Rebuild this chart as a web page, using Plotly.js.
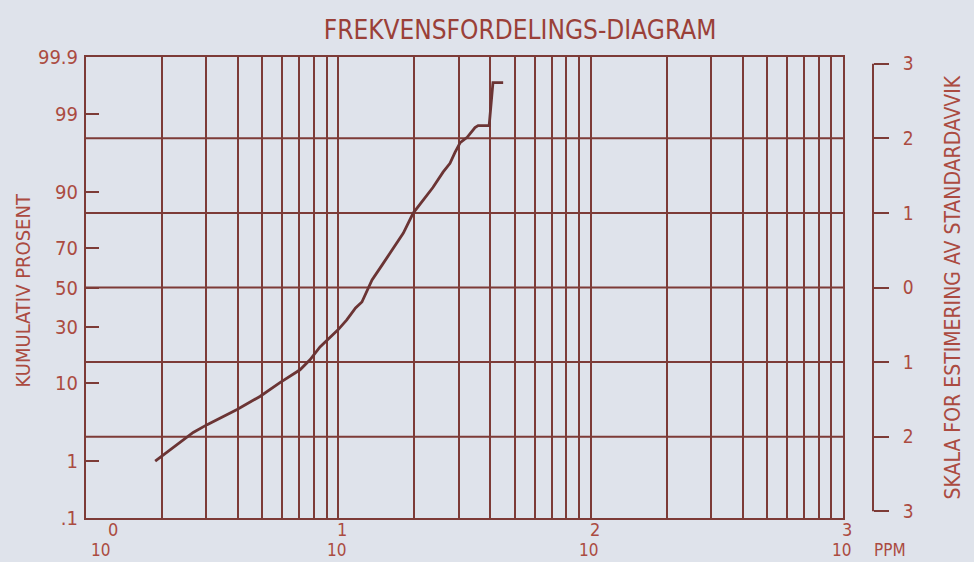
<!DOCTYPE html>
<html>
<head>
<meta charset="utf-8">
<script src="https://cdn.plot.ly/plotly-3.0.1.min.js"></script>
<style>
  html, body { margin: 0; padding: 0; background: #dfe3eb; }
  #chart { width: 974px; height: 562px; }
</style>
</head>
<body>
<div id="chart"></div>
<script>
// ---- data ----
const ppm = [1.88, 2.66, 3.02, 3.97, 4.89, 5.87, 7.05, 7.72, 8.46, 9.27, 9.97, 10.8, 11.7, 12.4, 13.0, 13.6, 14.9, 16.3, 18.1, 19.8, 21.7, 23.7, 26.0, 27.7, 29.0, 30.4, 32.4, 34.8, 35.8, 39.6, 41.0, 45.0];
const cumPct = [1.0, 2.6, 3.3, 5.1, 7.2, 10.1, 13.5, 16.6, 21.3, 25.4, 28.5, 33.2, 39.2, 42.3, 48.7, 54.0, 61.8, 69.2, 76.7, 84.1, 87.9, 91.0, 93.9, 95.2, 96.5, 97.4, 97.8, 98.4, 98.5, 98.5, 99.7, 99.7];

const leftPct = [0.1, 1, 10, 30, 50, 70, 90, 99, 99.9];
const leftLabels = [".1", "1", "10", "30", "50", "70", "90", "99", "99.9"];
const sigmaVals = [3, 2, 1, 0, -1, -2, -3];
const sigmaLabels = ["3", "2", "1", "0", "1", "2", "3"];
const gridMultipliers = [1, 2, 3, 4, 5, 6, 7, 8, 9];
const decades = [0, 1, 2, 3];
const decadeBase = "10";
const unitLabel = "PPM";
const titleText = "FREKVENSFORDELINGS-DIAGRAM";
const leftTitle = "KUMULATIV PROSENT";
const rightTitle = "SKALA FOR ESTIMERING AV STANDARDAVVIK";

// inverse standard normal (Acklam) for the probability scale
function norminv(p) {
  const a = [-3.969683028665376e+01, 2.209460984245205e+02, -2.759285104469687e+02, 1.383577518672690e+02, -3.066479806614716e+01, 2.506628277459239e+00];
  const b = [-5.447609879822406e+01, 1.615858368580409e+02, -1.556989798598866e+02, 6.680131188771972e+01, -1.328068155288572e+01];
  const c = [-7.784894002430293e-03, -3.223964580411365e-01, -2.400758277161838e+00, -2.549732539343734e+00, 4.374664141464968e+00, 2.938163982698783e+00];
  const d = [7.784695709041462e-03, 3.224671290700398e-01, 2.445134137142996e+00, 3.754408661907416e+00];
  const pl = 0.02425, ph = 1 - pl;
  let q, r;
  if (p < pl) {
    q = Math.sqrt(-2 * Math.log(p));
    return (((((c[0]*q+c[1])*q+c[2])*q+c[3])*q+c[4])*q+c[5]) / ((((d[0]*q+d[1])*q+d[2])*q+d[3])*q+1);
  } else if (p <= ph) {
    q = p - 0.5; r = q*q;
    return (((((a[0]*r+a[1])*r+a[2])*r+a[3])*r+a[4])*r+a[5])*q / (((((b[0]*r+b[1])*r+b[2])*r+b[3])*r+b[4])*r+1);
  } else {
    q = Math.sqrt(-2 * Math.log(1 - p));
    return -(((((c[0]*q+c[1])*q+c[2])*q+c[3])*q+c[4])*q+c[5]) / ((((d[0]*q+d[1])*q+d[2])*q+d[3])*q+1);
  }
}
const z = p => norminv(p / 100);

const LINE = '#7d3b37';
const TEXT = '#ab4b41';
const DATA = '#6b3434';
const FONT = '"Liberation Sans Narrow", "DejaVu Sans Condensed", "Roboto", sans-serif';

const zLo = z(leftPct[0]);
const zHi = z(leftPct[leftPct.length - 1]);

const gridVals = [];
decades.slice(0, -1).forEach(k => gridMultipliers.forEach(m => gridVals.push(m * Math.pow(10, k))));
gridVals.push(Math.pow(10, decades[decades.length - 1]));

const trace = {
  x: ppm,
  y: cumPct.map(z),
  type: 'scatter',
  mode: 'lines',
  line: { color: DATA, width: 2.8 },
  hoverinfo: 'x+text',
  text: cumPct.map(v => v + ' %'),
  showlegend: false
};
const dummy = {
  x: [ppm[0]], y: [null], yaxis: 'y2', type: 'scatter', mode: 'lines',
  showlegend: false, hoverinfo: 'skip'
};

const annotations = [];
decades.forEach((k, i) => {
  annotations.push({
    x: k, xref: 'x', y: 0, yref: 'paper', yanchor: 'middle', xanchor: 'center',
    text: decadeBase, showarrow: false, yshift: -32, xshift: i === 0 ? 14 : -2,
    font: { family: FONT, size: 17, color: TEXT }
  });
  annotations.push({
    x: k, xref: 'x', y: 0, yref: 'paper', yanchor: 'middle', xanchor: 'center',
    text: String(k), showarrow: false, yshift: -11, xshift: i === 0 ? 27 : 4,
    font: { family: FONT, size: 18, color: TEXT }
  });
});
annotations.push({
  x: 1, xref: 'paper', y: 0, yref: 'paper', xanchor: 'center', yanchor: 'middle',
  text: unitLabel, showarrow: false, xshift: 17, yshift: -32,
  font: { family: FONT, size: 17, color: TEXT }
});
annotations.push({
  x: 0, xref: 'paper', y: 0, yref: 'y', xanchor: 'center', yanchor: 'middle',
  text: leftTitle, textangle: -90, showarrow: false, xshift: -64, yshift: -3,
  font: { family: FONT, size: 20, color: TEXT }
});
annotations.push({
  x: 1, xref: 'paper', y: 0, yref: 'y', xanchor: 'center', yanchor: 'middle',
  text: rightTitle, textangle: -90, showarrow: false, xshift: 79, yshift: 0,
  font: { family: FONT, size: 21, color: TEXT }
});

const layout = {
  width: 974, height: 562,
  paper_bgcolor: '#dfe3eb',
  plot_bgcolor: '#dfe3eb',
  margin: { l: 86, r: 101, t: 57, b: 44 },
  font: { family: FONT, color: TEXT },
  title: {
    text: titleText,
    x: 520 / 974, xref: 'container', xanchor: 'center',
    y: 1 - 30 / 562, yref: 'container', yanchor: 'middle',
    font: { family: FONT, size: 26, color: '#9a4038' }
  },
  xaxis: {
    type: 'log',
    range: [decades[0], decades[decades.length - 1]],
    domain: [0, 757 / 787],
    tickmode: 'array', tickvals: gridVals, showticklabels: false, ticks: '',
    showgrid: true, gridcolor: LINE, gridwidth: 2,
    showline: true, linecolor: LINE, linewidth: 2, mirror: true,
    zeroline: false
  },
  yaxis: {
    range: [zLo, zHi],
    tickmode: 'array', tickvals: leftPct.map(z), ticktext: leftLabels,
    ticks: 'inside', ticklen: 13, tickwidth: 2, tickcolor: LINE,
    tickfont: { family: FONT, size: 20, color: TEXT },
    ticklabelstandoff: 2,
    showgrid: false, zeroline: false,
    showline: true, linecolor: LINE, linewidth: 2, mirror: true
  },
  yaxis2: {
    overlaying: 'y', side: 'right', anchor: 'free', position: 1,
    range: [zLo, zHi],
    tickmode: 'array', tickvals: sigmaVals, ticktext: sigmaLabels,
    ticks: 'outside', ticklen: 15, tickwidth: 2, tickcolor: LINE,
    tickfont: { family: FONT, size: 19, color: TEXT },
    ticklabelstandoff: 10,
    showgrid: false, zeroline: false, showline: false
  },
  shapes: [
    ...sigmaVals.filter(v => Math.abs(v) < 3).map(v => ({
      type: 'line', xref: 'x domain', x0: 0, x1: 1, yref: 'y', y0: v, y1: v,
      line: { color: LINE, width: 2 }, layer: 'below'
    })),
    {
      type: 'line', xref: 'paper', x0: 1, x1: 1, yref: 'y',
      y0: sigmaVals[sigmaVals.length - 1], y1: sigmaVals[0],
      line: { color: LINE, width: 2 }
    }
  ],
  annotations: annotations,
  showlegend: false
};

Plotly.newPlot('chart', [trace, dummy], layout, { displayModeBar: false, staticPlot: true });
</script>
</body>
</html>
